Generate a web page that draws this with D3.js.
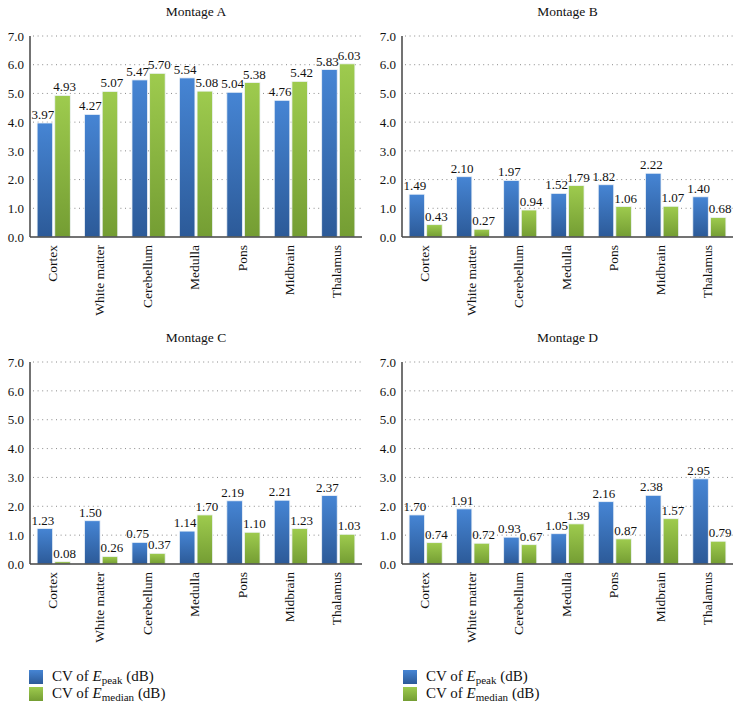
<!DOCTYPE html>
<html><head><meta charset="utf-8">
<script src="https://cdn.jsdelivr.net/npm/d3@7"></script>
<style>body{margin:0;background:#fff}svg{display:block}text{font-family:"Liberation Serif","DejaVu Serif",serif;fill:#111}</style>
</head><body>
<svg id="chart" width="740" height="710"></svg>
<script>
const categories = ["Cortex","White matter","Cerebellum","Medulla","Pons","Midbrain","Thalamus"];
const montages = ["Montage A","Montage B","Montage C","Montage D"];
const peakA = [3.97,4.27,5.47,5.54,5.04,4.76,5.83];
const medianA = [4.93,5.07,5.70,5.08,5.38,5.42,6.03];
const peakB = [1.49,2.10,1.97,1.52,1.82,2.22,1.40];
const medianB = [0.43,0.27,0.94,1.79,1.06,1.07,0.68];
const peakC = [1.23,1.50,0.75,1.14,2.19,2.21,2.37];
const medianC = [0.08,0.26,0.37,1.70,1.10,1.23,1.03];
const peakD = [1.70,1.91,0.93,1.05,2.16,2.38,2.95];
const medianD = [0.74,0.72,0.67,1.39,0.87,1.57,0.79];
const yTicks = [0,1,2,3,4,5,6,7];
const seriesKeys = ["peak","median"];

const svg = d3.select("#chart");
const defs = svg.append("defs");
function grad(id, top, bot){
  const g = defs.append("linearGradient").attr("id",id).attr("x1",0).attr("y1",0).attr("x2",0).attr("y2",1);
  g.append("stop").attr("offset","0%").attr("stop-color",top);
  g.append("stop").attr("offset","100%").attr("stop-color",bot);
}
grad("gPeak","#4685d4","#2c5a98");
grad("gMedian","#9ecb4e","#749d33");
const fills = {peak:"url(#gPeak)", median:"url(#gMedian)"};
const labelShift = {peak:-2, median:2};

const panels = [
  {title:montages[0], peak:peakA, median:medianA, x0:30, x1:362, y0:237, y7:36, ty:13},
  {title:montages[1], peak:peakB, median:medianB, x0:402, x1:733, y0:237, y7:36, ty:13},
  {title:montages[2], peak:peakC, median:medianC, x0:30, x1:362, y0:564, y7:362, ty:339},
  {title:montages[3], peak:peakD, median:medianD, x0:402, x1:733, y0:564, y7:362, ty:339}
];

panels.forEach(p => {
  const g = svg.append("g");
  const y = d3.scaleLinear().domain([0,7]).range([p.y0,p.y7]);
  const x = d3.scaleBand().domain(categories).range([p.x0,p.x1]).paddingInner(0.3).paddingOuter(0.15);
  const xs = d3.scaleBand().domain(seriesKeys).range([0,x.bandwidth()]).paddingInner(0.12);

  g.append("text").attr("x",(p.x0+p.x1)/2).attr("y",p.ty).attr("text-anchor","middle")
    .attr("dominant-baseline","middle").style("font-size","13.5px").text(p.title);

  g.selectAll(".grid").data(yTicks.filter(t=>t>0)).join("line")
    .attr("x1",p.x0+3).attr("x2",p.x1).attr("y1",d=>y(d)).attr("y2",d=>y(d))
    .attr("stroke","#8a8a8a").attr("stroke-width",1).attr("stroke-dasharray","1,3.6");

  const ya = d3.axisLeft(y).tickValues(yTicks).tickFormat(d3.format(".1f")).tickSize(0).tickPadding(6);
  const yg = g.append("g").attr("transform",`translate(${p.x0},0)`).call(ya);
  yg.select(".domain").remove();
  yg.selectAll("text").style("font-size","13px").attr("fill","#111");

  categories.forEach((c,i) => {
    seriesKeys.forEach(k => {
      const v = p[k][i];
      const bx = x(c)+xs(k);
      g.append("rect").attr("x",bx).attr("y",y(v)).attr("width",xs.bandwidth()).attr("height",y(0)-y(v))
        .attr("fill",fills[k]).attr("stroke","#eef3f8").attr("stroke-width",0.8);
      g.append("text").attr("x",bx+xs.bandwidth()/2+labelShift[k]).attr("y",y(v)-4).attr("text-anchor","middle")
        .style("font-size","13px").text(v.toFixed(2));
    });
  });

  g.append("line").attr("x1",p.x0).attr("x2",p.x0).attr("y1",p.y7).attr("y2",p.y0).attr("stroke","#444").attr("stroke-width",1.5);
  g.append("line").attr("x1",p.x0).attr("x2",p.x1).attr("y1",p.y0).attr("y2",p.y0).attr("stroke","#444").attr("stroke-width",1.5);

  const xa = d3.axisBottom(x).tickSize(0).tickPadding(0);
  const xg = g.append("g").attr("transform",`translate(0,${p.y0})`).call(xa);
  xg.select(".domain").remove();
  xg.selectAll("text").style("font-size","13.5px").attr("fill","#111")
    .attr("transform","rotate(-90)").attr("text-anchor","end").attr("dominant-baseline","middle")
    .attr("x",-8).attr("y",0).attr("dy",null);
});

[{x:29},{x:403}].forEach(L => {
  const lg = svg.append("g");
  seriesKeys.forEach((k,i) => {
    const yy = 670 + i*17;
    lg.append("rect").attr("x",L.x).attr("y",yy).attr("width",14).attr("height",14).attr("fill",fills[k]);
    const t = lg.append("text").attr("x",L.x+23).attr("y",yy+11).style("font-size","15px");
    t.append("tspan").text("CV of ");
    t.append("tspan").style("font-style","italic").text("E");
    t.append("tspan").attr("dy",3).style("font-size","11px").text(k==="peak"?"peak":"median");
    t.append("tspan").attr("dy",-3).text(" (dB)");
  });
});
</script>
</body></html>
